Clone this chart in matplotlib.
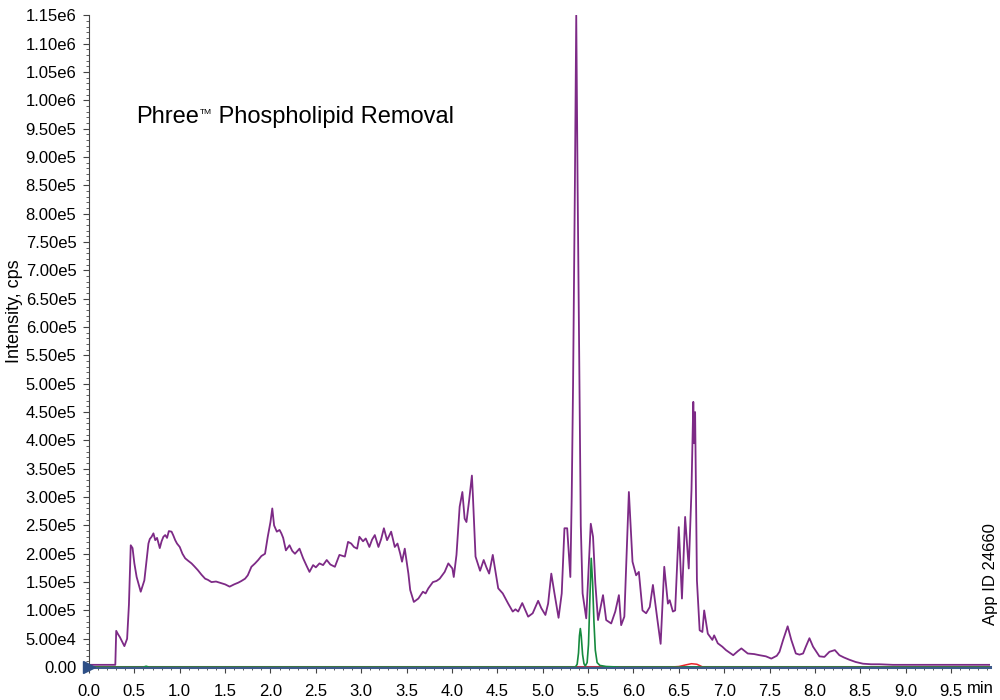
import numpy as np
import matplotlib
matplotlib.use("Agg")
import matplotlib.pyplot as plt
from matplotlib.ticker import MultipleLocator, FuncFormatter

plt.rcParams['font.family'] = ['Liberation Sans', 'DejaVu Sans']

# purple trace (XIC of phospholipids), time in min, intensity in thousands of cps
purple_t = [0.00, 0.29, 0.30, 0.32, 0.34, 0.39, 0.42, 0.44, 0.46, 0.48, 0.50, 0.525, 0.57, 0.61,
            0.635, 0.655, 0.67, 0.69, 0.71, 0.73, 0.75, 0.78, 0.80, 0.82, 0.84, 0.86, 0.88, 0.91,
            0.93, 0.95, 0.97, 1.00, 1.03, 1.06, 1.09, 1.13, 1.16, 1.20, 1.24, 1.28, 1.31, 1.35,
            1.40, 1.46, 1.50, 1.55, 1.60, 1.645, 1.68, 1.72, 1.75, 1.79, 1.83, 1.865, 1.90, 1.94,
            1.97, 2.00, 2.02, 2.04, 2.07, 2.10, 2.12, 2.14, 2.17, 2.21, 2.24, 2.27, 2.32, 2.36,
            2.40, 2.43, 2.47, 2.50, 2.54, 2.58, 2.62, 2.66, 2.71, 2.76, 2.82, 2.855, 2.89, 2.92,
            2.955, 2.98, 3.02, 3.05, 3.09, 3.12, 3.15, 3.19, 3.22, 3.25, 3.285, 3.33, 3.37, 3.40,
            3.43, 3.45, 3.48, 3.52, 3.54, 3.58, 3.63, 3.68, 3.71, 3.74, 3.79, 3.83, 3.865, 3.92,
            3.96, 4.005, 4.02, 4.05, 4.085, 4.115, 4.14, 4.16, 4.19, 4.22, 4.23, 4.26, 4.31, 4.35,
            4.38, 4.41, 4.45, 4.51, 4.56, 4.62, 4.67, 4.70, 4.73, 4.775, 4.84, 4.89, 4.95, 4.985,
            5.03, 5.06, 5.095, 5.13, 5.175, 5.21, 5.24, 5.27, 5.305, 5.32, 5.335, 5.355, 5.37,
            5.385, 5.405, 5.42, 5.44, 5.48, 5.53, 5.555, 5.58, 5.61, 5.665, 5.70, 5.755, 5.80,
            5.84, 5.865, 5.90, 5.95, 5.99, 6.03, 6.06, 6.10, 6.14, 6.18, 6.215, 6.26, 6.30, 6.34,
            6.38, 6.40, 6.435, 6.46, 6.50, 6.535, 6.57, 6.61, 6.64, 6.66, 6.67, 6.68, 6.70, 6.73,
            6.76, 6.78, 6.82, 6.87, 6.89, 6.93, 6.98, 7.02, 7.10, 7.15, 7.19, 7.26, 7.33, 7.39,
            7.46, 7.52, 7.58, 7.61, 7.65, 7.70, 7.74, 7.79, 7.83, 7.87, 7.90, 7.94, 7.98, 8.05,
            8.105, 8.16, 8.22, 8.27, 8.32, 8.38, 8.45, 8.53, 8.62, 8.71, 8.86, 9.0, 9.2, 9.5,
            9.7, 9.93]
purple_i = [4, 4, 64, 58, 53, 37, 50, 110, 215, 210, 183, 159, 133, 153,
            189, 218, 226, 230, 236, 224, 228, 210, 222, 230, 233, 228, 240, 239,
            232, 224, 218, 212, 200, 192, 188, 183, 178, 171, 163, 156, 154, 150,
            151, 148, 146, 142, 146, 149, 152, 156, 162, 177, 183, 189, 196, 200,
            230, 256, 280, 250, 239, 242, 236, 228, 206, 215, 205, 200, 209, 192,
            178, 168, 180, 176, 183, 180, 189, 181, 177, 198, 195, 221, 218, 212,
            209, 230, 222, 227, 212, 225, 233, 212, 226, 245, 224, 239, 212, 218,
            200, 186, 209, 165, 136, 115, 121, 133, 130, 139, 150, 152, 156, 168,
            183, 174, 159, 198, 283, 309, 262, 256, 295, 338, 306, 195, 170, 189,
            176, 165, 198, 139, 130, 112, 98, 102, 98, 113, 89, 95, 117, 104,
            92, 112, 165, 130, 87, 130, 245, 245, 159, 300, 500, 850, 1150,
            850, 500, 250, 130, 86, 253, 230, 148, 83, 127, 83, 77, 98,
            127, 74, 89, 309, 186, 162, 168, 100, 95, 106, 145, 89, 41, 177,
            112, 118, 98, 100, 247, 121, 265, 174, 312, 468, 395, 450, 153, 65,
            62, 100, 59, 48, 56, 42, 36, 30, 21, 28, 33, 24, 23, 21,
            19, 15, 20, 27, 48, 72, 48, 24, 22, 24, 36, 51, 36, 19,
            18, 27, 30, 21, 17, 13, 9, 6, 5, 5, 4, 4, 4, 4,
            4, 4]

green_t = [0.0, 0.60, 0.63, 0.66, 5.36, 5.38, 5.395, 5.405, 5.415, 5.425, 5.44, 5.455, 5.47,
           5.49, 5.505, 5.52, 5.535, 5.55, 5.565, 5.58, 5.60, 5.63, 5.70, 5.85, 9.93]
green_i = [0, 0, 1.5, 0, 0, 5, 25, 55, 68, 55, 22, 6, 2,
           8, 40, 120, 192, 150, 80, 30, 8, 3, 1, 0, 0]

red_t = [0.0, 6.40, 6.50, 6.58, 6.64, 6.70, 6.76, 6.80, 9.93]
red_i = [0, 0, 1, 4, 6, 5, 0.5, 0, 0]

blue_t = [0.0, 9.93]
blue_i = [0, 0]

fig = plt.figure(figsize=(10, 7), dpi=100)
ax = fig.add_axes([0.089, 0.047, 0.901, 0.931])

ax.plot(blue_t, np.array(blue_i) * 1e3, color='#3d5a8a', lw=2.2, clip_on=False, zorder=3)
ax.plot(red_t, np.array(red_i) * 1e3, color='#e8242b', lw=1.1, zorder=4)
ax.plot(green_t, np.array(green_i) * 1e3, color='#168a3e', lw=1.2, zorder=4)
ax.plot(purple_t, np.array(purple_i) * 1e3, color='#7d2a86', lw=1.3, zorder=5)
ax.plot([0], [0], marker='>', color='#2e4f86', markersize=8, clip_on=False, zorder=6)

ax.set_xlim(0, 9.93)
ax.set_ylim(0, 1.15e6)

for s in ['top', 'right']:
    ax.spines[s].set_visible(False)
ax.spines['bottom'].set_color('#3d5a8a')
ax.spines['bottom'].set_linewidth(2)
ax.spines['left'].set_color('#444444')

ax.xaxis.set_major_locator(MultipleLocator(0.5))
ax.xaxis.set_minor_locator(MultipleLocator(0.1))
ax.yaxis.set_major_locator(MultipleLocator(5e4))
ax.yaxis.set_minor_locator(MultipleLocator(1e4))


def ylab(v, pos):
    if v == 0:
        return '0.00'
    m, e = f'{v:.2e}'.split('e')
    return f'{m}e{int(e)}'


ax.yaxis.set_major_formatter(FuncFormatter(ylab))
ax.xaxis.set_major_formatter(FuncFormatter(lambda v, p: f'{v:.1f}'))
ax.tick_params(axis='both', which='major', labelsize=12, length=4, color='#444444')
ax.tick_params(axis='both', which='minor', length=2, color='#444444')
ax.tick_params(axis='x', which='major', pad=8)
ax.tick_params(axis='y', which='major', pad=5)

ax.set_ylabel('Intensity, cps', fontsize=13)
ax.yaxis.set_label_coords(-0.073, 0.546)

# title with small raised TM
t1 = ax.text(0.052, 0.8436, 'Phree', transform=ax.transAxes, fontsize=17, va='center', ha='left')
fig.canvas.draw()
bb = t1.get_window_extent().transformed(ax.transAxes.inverted())
t2 = ax.text(bb.x1 + 0.001, bb.y1 - 0.004, 'TM', transform=ax.transAxes, fontsize=6,
             va='top', ha='left')
fig.canvas.draw()
bb2 = t2.get_window_extent().transformed(ax.transAxes.inverted())
ax.text(bb2.x1, 0.8436, ' Phospholipid Removal', transform=ax.transAxes,
        fontsize=17, va='center', ha='left')

fig.text(0.98, 0.017, 'min', fontsize=12, ha='center', va='center')
fig.text(0.991, 0.18, 'App ID 24660', fontsize=12, rotation=90, ha='center', va='center')

fig.savefig('out.png', dpi=100)
